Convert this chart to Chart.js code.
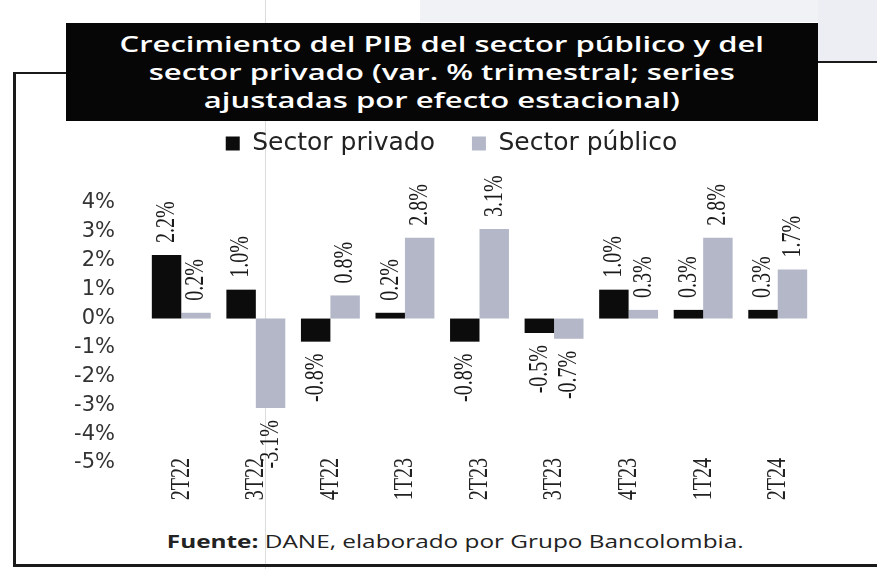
<!DOCTYPE html>
<html>
<head>
<meta charset="utf-8">
<script src="https://cdn.jsdelivr.net/npm/chart.js@4.4.1/dist/chart.umd.min.js"></script>
<style>
	body { margin: 0; background: #fff; width: 877px; height: 569px; overflow: hidden; position: relative; font-family: "Open Sans", sans-serif; }
	.fx { position: absolute; }
	#title { left: 66px; top: 23px; width: 752px; height: 98px; background: #060606; z-index: 3; }
	#title div { position: absolute; left: 0; top: 6px; width: 533px; transform: scaleX(1.41); transform-origin: 0 0;
		color: #fff; font-weight: 600; font-size: 22px; line-height: 28px; text-align: center; }
	#wrap { left: 0; top: 94px; width: 877px; height: 431px; z-index: 2; }
	#source { left: 17px; top: 529px; width: 626px; transform: scaleX(1.4); transform-origin: 0 0; text-align: center;
		font-size: 17.4px; color: #222; z-index: 2; }
</style>
</head>
<body>
<div class="fx" style="left:420px;top:0;width:457px;height:22px;background:#f1f2f6"></div>
<div class="fx" style="left:818px;top:0;width:59px;height:61px;background:#eceef4"></div>
<div class="fx" style="left:265px;top:0;width:1px;height:569px;background:#dcdcdc"></div>
<div class="fx" style="left:13px;top:72px;width:3px;height:494px;background:#1a1a1a"></div>
<div class="fx" style="left:13px;top:72px;width:55px;height:2px;background:#1a1a1a"></div>
<div class="fx" style="left:818px;top:61px;width:59px;height:2px;background:#1a1a1a"></div>
<div class="fx" style="left:13px;top:564px;width:864px;height:3px;background:#1a1a1a"></div>
<div class="fx" id="title"><div>Crecimiento del PIB del sector público y del<br>sector privado (var. % trimestral; series<br>ajustadas por efecto estacional)</div></div>
<div class="fx" id="wrap"><canvas id="myChart" width="877" height="431"></canvas></div>
<div class="fx" id="source"><b>Fuente:</b> DANE, elaborado por Grupo Bancolombia.</div>
<script>
var labels = ['2T22', '3T22', '4T22', '1T23', '2T23', '3T23', '4T23', '1T24', '2T24']
var privado = [2.2, 1.0, -0.8, 0.2, -0.8, -0.5, 1.0, 0.3, 0.3]
var publico = [0.2, -3.1, 0.8, 2.8, 3.1, -0.7, 0.3, 2.8, 1.7]
var yTicks = [4, 3, 2, 1, 0, -1, -2, -3, -4, -5]

var ctx = document.getElementById('myChart')
var serif = '20px "Liberation Serif", serif'
var stretch = 1.4

// rotated text, widened like the scanned original
function upText(c, txt, x, y, align, dx) {
	c.save()
	c.translate(x, y)
	c.rotate(-Math.PI / 2)
	c.scale(1, stretch)
	c.textAlign = align
	c.fillText(txt, dx, 0)
	c.restore()
}

var barLabels = {
	id: 'barLabels',
	afterDatasetsDraw: function(chart) {
		var c = chart.ctx
		c.save()
		c.font = serif
		c.fillStyle = '#1a1a1a'
		c.textBaseline = 'middle'
		chart.data.datasets.forEach(function(ds, di) {
			chart.getDatasetMeta(di).data.forEach(function(bar, i) {
				var v = ds.data[i]
				var txt = v.toFixed(1) + '%'
				if (v >= 0) {
					upText(c, txt, bar.x, bar.y, 'left', 12)
				} else {
					upText(c, txt, bar.x, bar.y, 'right', -12)
				}
			})
		})
		// category labels under the plot
		var xs = chart.scales.x
		c.fillStyle = '#222'
		chart.data.labels.forEach(function(l, i) {
			upText(c, l, xs.getPixelForValue(i), chart.chartArea.bottom - 5, 'right', 0)
		})
		c.restore()
	}
}

var legendFix = {
	id: 'legendFix',
	beforeInit: function(chart) {
		var lg = chart.legend
		var fit = lg.fit
		lg.fit = function() {
			fit.bind(lg)()
			this.height = 109
		}
		var draw = lg.draw
		lg.draw = function() {
			chart.ctx.save()
			chart.ctx.translate(14, 0)
			draw.apply(lg, arguments)
			chart.ctx.restore()
		}
	}
}

window.myChart = new Chart(ctx, {
	type: 'bar',
	data: {
		labels: labels,
		datasets: [{
			label: 'Sector privado',
			data: privado,
			backgroundColor: '#0c0c0c',
			barPercentage: 1.0,
			categoryPercentage: 0.79
		}, {
			label: 'Sector público',
			data: publico,
			backgroundColor: '#b3b7c7',
			barPercentage: 1.0,
			categoryPercentage: 0.79
		}]
	},
	options: {
		responsive: false,
		animation: false,
		layout: { padding: { left: 60, right: 62, top: 0, bottom: 0 } },
		plugins: {
			legend: {
				position: 'top',
				labels: {
					boxWidth: 14,
					boxHeight: 14,
					padding: 37,
					color: '#222',
					font: { family: '"DejaVu Sans", sans-serif', size: 25 }
				}
			},
			tooltip: { enabled: false }
		},
		scales: {
			x: {
				grid: { display: false, drawTicks: false },
				border: { display: false },
				ticks: { display: false },
				afterFit: function(s) { s.height = 62 }
			},
			y: {
				min: -5,
				max: 4,
				grid: { display: false, drawTicks: false },
				border: { display: false },
				afterBuildTicks: function(s) {
					s.ticks = yTicks.map(function(v) { return { value: v } })
				},
				ticks: {
					padding: 29,
					color: '#333',
					font: { family: '"DejaVu Sans", sans-serif', size: 21 },
					callback: function(v) { return v + '%' }
				},
				afterFit: function(s) { s.width = 84 }
			}
		}
	},
	plugins: [barLabels, legendFix]
})
</script>
</body>
</html>
